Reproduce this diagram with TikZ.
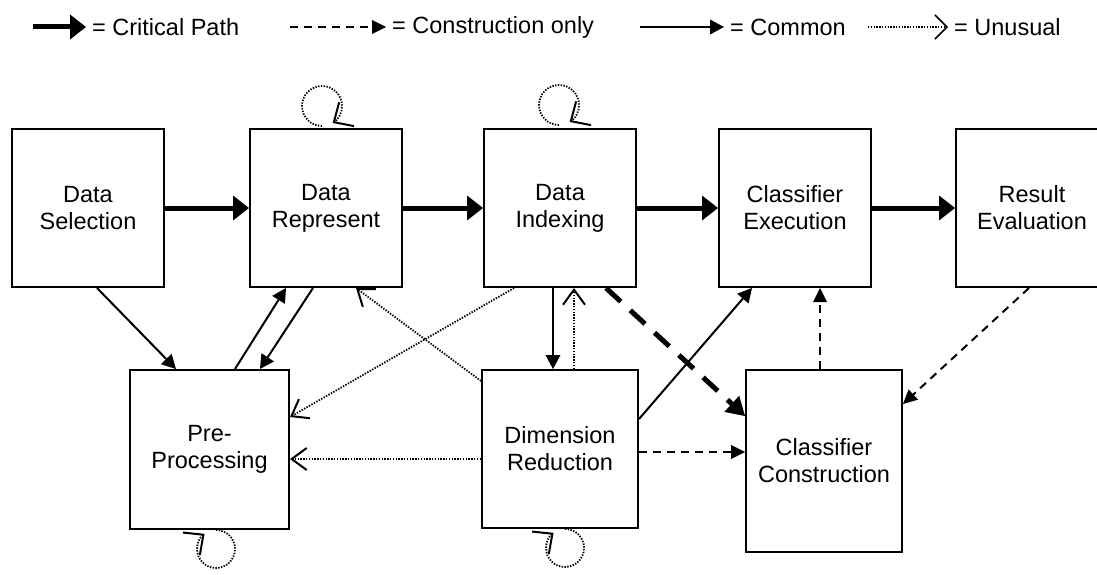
\documentclass[tikz,border=0pt]{standalone}
\usepackage{fontspec}
\setmainfont{Liberation Sans}
\usetikzlibrary{arrows.meta,calc}
\begin{document}
\begin{tikzpicture}[x=1pt,y=-1pt,
  stage/.style={draw, line width=2pt, inner sep=0pt, align=center, minimum width=152pt, minimum height=158pt, font=\fontsize{23.5}{27}\selectfont},
  critical/.style={line width=5pt, -{Triangle[length=16pt,width=25pt,line width=0pt]}},
  common/.style={line width=2pt, -{Triangle[length=14pt,width=15pt,line width=0pt]}},
  construct/.style={line width=2pt, dash pattern=on 8pt off 6pt, -{Triangle[length=14pt,width=14pt,line width=0pt]}},
  constructbig/.style={line width=5pt, dash pattern=on 20pt off 13pt, -{Triangle[length=18pt,width=22pt,line width=0pt]}},
  unusual/.style={line width=1.8pt, dash pattern=on 1.4pt off 1.4pt, -{Straight Barb[length=15pt,width=22pt,line width=2pt]}},
  loopy/.style={unusual, -{Straight Barb[length=15pt,width=28pt,line width=2pt]}},
  legend/.style={anchor=west, inner sep=6pt, font=\fontsize{23.5}{27}\selectfont}]
\useasboundingbox (0,0) rectangle (1097,575);
\clip (0,0) rectangle (1097,575);
\node[stage] (ds) at (88,208) {Data\\Selection};
\node[stage] (drp) at (326,208) {Data\\Represent};
\node[stage] (di) at (560,208) {Data\\Indexing};
\node[stage] (ce) at (795,208) {Classifier\\Execution};
\node[stage] (re) at (1032,208) {Result\\Evaluation};
\node[stage, minimum width=159pt, minimum height=159pt] (pp) at (209.5,449.5) {Pre-\\Processing};
\node[stage, minimum width=156pt] (dimr) at (560,449) {Dimension\\Reduction};
\node[stage, minimum width=156pt, minimum height=182pt] (cc) at (824,461) {Classifier\\Construction};
\draw[critical] (ds) -- (drp);
\draw[critical] (drp) -- (di);
\draw[critical] (di) -- (ce);
\draw[critical] (ce) -- (re);
\draw[common] ($(ds.south west)+(86,0)$) -- ($(pp.north west)+(47,0)$);
\draw[common] ($(pp.north west)+(106,0)$) -- ($(drp.south west)+(37,0)$);
\draw[common] ($(drp.south west)+(64,0)$) -- ($(pp.north west)+(131,0)$);
\draw[common] ($(di.south)+(-7,0)$) -- ($(dimr.north)+(-7,0)$);
\draw[common] ($(dimr.north east)+(0,50)$) -- ($(ce.south west)+(34,0)$);
\draw[construct] ($(dimr.north east)+(0,83)$) -- ($(cc.north west)+(0,83)$);
\draw[construct] ($(cc.north west)+(75,0)$) -- ($(ce.south west)+(102,0)$);
\draw[construct] ($(re.south west)+(74,0)$) -- ($(cc.north east)+(0,35)$);
\draw[constructbig] ($(di.south west)+(123,0)$) -- ($(cc.north west)+(0,47)$);
\draw[unusual] ($(di.south west)+(31,0)$) -- ($(pp.north east)+(0,48)$);
\draw[unusual] ($(dimr.north west)+(93,0)$) -- ($(di.south west)+(91,0)$);
\draw[unusual] ($(dimr.north west)+(0,12)$) -- ($(drp.south west)+(107,0)$);
\draw[unusual] ($(dimr.north west)+(0,90)$) -- ($(pp.north east)+(0,90)$);
\coordinate (drploop) at ($(drp.north)+(-4,-2)$);
\coordinate (diloop) at ($(di.north)+(-1,-3)$);
\coordinate (pploop) at ($(pp.south)+(6.5,0)$);
\coordinate (dimrloop) at ($(dimr.south)+(5,0)$);
\draw[loopy] (drploop) arc[start angle=90, end angle=418, radius=20];
\draw[loopy] (diloop) arc[start angle=90, end angle=418, radius=20];
\draw[loopy] (pploop) arc[start angle=270, end angle=593, radius=19];
\draw[loopy] (dimrloop) arc[start angle=270, end angle=593, radius=19];
\coordinate (lgcrit0) at (33,27);
\node[legend] (lgcrit) at (86,27) {= Critical Path};
\draw[critical] (lgcrit0) -- (lgcrit.west);
\coordinate (lgcons0) at (290,27);
\node[legend] (lgcons) at (386,27) {= Construction only};
\draw[construct] (lgcons0) -- (lgcons.west);
\coordinate (lgcomm0) at (640,27);
\node[legend] (lgcomm) at (724,27) {= Common};
\draw[common] (lgcomm0) -- (lgcomm.west);
\coordinate (lgunus0) at (868,27);
\node[legend] (lgunus) at (948,27) {= Unusual};
\draw[unusual, -{Straight Barb[length=12pt,width=24pt,line width=1.5pt]}] (lgunus0) -- (lgunus.west);
\end{tikzpicture}
\end{document}
